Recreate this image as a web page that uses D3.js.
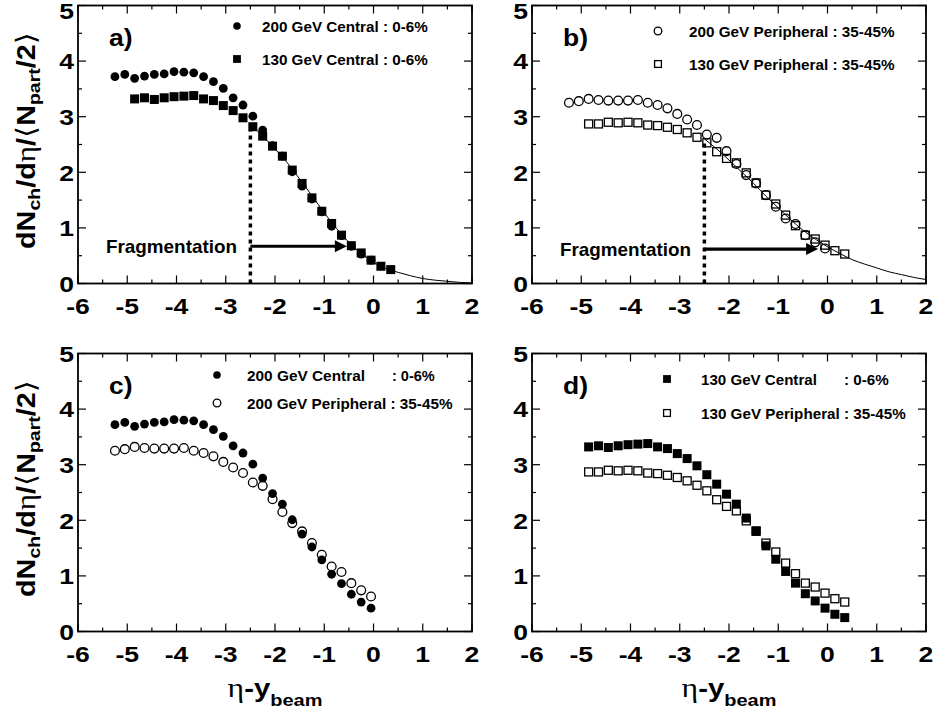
<!DOCTYPE html>
<html>
<head>
<meta charset="utf-8">
<script src="https://cdn.jsdelivr.net/npm/d3@7"></script>
<style>
  body { margin: 0; background: #fff; }
  svg { display: block; }
</style>
</head>
<body>
<div id="chart"></div>
<script>
// eta - y_beam positions of the two beam energies
const eta200 = [-5.25, -5.05, -4.85, -4.65, -4.45, -4.25, -4.05, -3.85, -3.65, -3.45, -3.25, -3.05, -2.85, -2.65,
    -2.45, -2.25, -2.05, -1.85, -1.65, -1.45, -1.25, -1.05, -0.85, -0.65, -0.45, -0.25, -0.05];
const eta130 = [-4.85, -4.65, -4.45, -4.25, -4.05, -3.85, -3.65, -3.45, -3.25, -3.05, -2.85, -2.65, -2.45, -2.25,
    -2.05, -1.85, -1.65, -1.45, -1.25, -1.05, -0.85, -0.65, -0.45, -0.25, -0.05, 0.15, 0.35];

// dNch/deta / <Npart/2>
const central200 = [3.72, 3.76, 3.69, 3.73, 3.76, 3.77, 3.81, 3.80, 3.79, 3.72, 3.63, 3.51, 3.34, 3.21,
    3.01, 2.76, 2.48, 2.29, 2.01, 1.75, 1.52, 1.29, 1.03, 0.86, 0.67, 0.53, 0.42];
const periph200 = [3.25, 3.28, 3.32, 3.30, 3.29, 3.29, 3.29, 3.30, 3.25, 3.21, 3.15, 3.05, 2.95, 2.85,
    2.68, 2.62, 2.38, 2.15, 1.95, 1.80, 1.59, 1.38, 1.17, 1.07, 0.87, 0.74, 0.63];
const central130 = [3.32, 3.34, 3.31, 3.34, 3.36, 3.37, 3.38, 3.32, 3.29, 3.20, 3.11, 2.98, 2.82, 2.65,
    2.47, 2.29, 2.04, 1.80, 1.54, 1.30, 1.08, 0.87, 0.68, 0.55, 0.42, 0.31, 0.25];
const periph130 = [2.87, 2.87, 2.90, 2.89, 2.90, 2.89, 2.85, 2.84, 2.81, 2.77, 2.71, 2.63, 2.53, 2.37,
    2.25, 2.17, 1.99, 1.81, 1.59, 1.43, 1.23, 1.04, 0.87, 0.80, 0.69, 0.59, 0.53];

// fragmentation curves (in a) and b))
const fitEta = [-2.5, -2.25, -2, -1.75, -1.5, -1.25, -1, -0.75, -0.5, -0.25, 0, 0.25, 0.5, 0.75, 1, 1.25, 1.5, 1.75, 2];
const fitCentral = [2.86, 2.65, 2.42, 2.17, 1.88, 1.58, 1.27, 0.99, 0.74, 0.54, 0.38, 0.27, 0.20, 0.14, 0.09, 0.06, 0.04, 0.02, 0.01];
const fitPeriph = [2.60, 2.42, 2.22, 2.01, 1.80, 1.57, 1.36, 1.15, 0.96, 0.80, 0.66, 0.54, 0.43, 0.35, 0.28, 0.21, 0.16, 0.11, 0.07];

// fragmentation marker: dotted edge and arrow, for a) and b)
const fragEdge = -2.5;
const fragTop = [2.75, 2.57];
const arrowY = [0.67, 0.62];
const arrowTip = [-0.54, -0.19];

const xTicks = [-6, -5, -4, -3, -2, -1, 0, 1, 2];
const yTicks = [0, 1, 2, 3, 4, 5];

const width = 933;
const height = 711;
const sans = "'Liberation Sans', Arial, Helvetica, sans-serif";

const svg = d3.select("#chart").append("svg")
    .attr("width", width)
    .attr("height", height);

svg.append("rect").attr("width", width).attr("height", height).attr("fill", "#fff");

const series = {
    c200: { x: eta200, y: central200, shape: "circle", filled: true },
    p200: { x: eta200, y: periph200, shape: "circle", filled: false },
    c130: { x: eta130, y: central130, shape: "square", filled: true },
    p130: { x: eta130, y: periph130, shape: "square", filled: false },
};

const panels = [
    { id: "a)", box: [78, 472, 5.5, 283.5], draw: ["c200", "c130"], fit: fitCentral, frag: 0, yTitle: true, xTitle: false,
      legend: [{ s: "c200", text: "200 GeV Central : 0-6%", w: 166 }, { s: "c130", text: "130 GeV Central : 0-6%", w: 166 }],
      legX: 237, legY: 26, textX: 262 },
    { id: "b)", box: [532, 926, 5.5, 283.5], draw: ["p200", "p130"], fit: fitPeriph, frag: 1, yTitle: false, xTitle: false,
      legend: [{ s: "p200", text: "200 GeV Peripheral : 35-45%", w: 206 }, { s: "p130", text: "130 GeV Peripheral : 35-45%", w: 206 }],
      legX: 658, legY: 31, textX: 689 },
    { id: "c)", box: [78, 472, 353.5, 631.5], draw: ["c200", "p200"], fit: null, yTitle: true, xTitle: true,
      legend: [{ s: "c200", text: "200 GeV Central", w: 118, tail: ": 0-6%", tailX: 392, tailW: 43 },
               { s: "p200", text: "200 GeV Peripheral : 35-45%", w: 206 }],
      legX: 217, legY: 375, textX: 247 },
    { id: "d)", box: [532, 926, 353.5, 631.5], draw: ["c130", "p130"], fit: null, yTitle: false, xTitle: true,
      legend: [{ s: "c130", text: "130 GeV Central", w: 116, tail: ": 0-6%", tailX: 844, tailW: 45 },
               { s: "p130", text: "130 GeV Peripheral : 35-45%", w: 205 }],
      legX: 667, legY: 379, textX: 701 },
];

// stretch a text horizontally to a target width (or by a factor)
function stretch(textSel, target, factor) {
    const w = textSel.node().getBBox().width;
    const k = target ? target / w : factor;
    textSel.attr("transform", `scale(${k},1)`);
}

function marker(g, shape, filled, cx, cy, size) {
    if (shape === "circle") {
        g.append("circle")
            .attr("cx", cx).attr("cy", cy).attr("r", size / 2)
            .attr("fill", filled ? "#000" : "none")
            .attr("stroke", "#000").attr("stroke-width", filled ? 0 : 1.3);
    } else {
        const s = filled ? size : size - 1;
        g.append("rect")
            .attr("x", cx - s / 2).attr("y", cy - s / 2)
            .attr("width", s).attr("height", s)
            .attr("fill", filled ? "#000" : "none")
            .attr("stroke", "#000").attr("stroke-width", filled ? 0 : 1.3);
    }
}

panels.forEach((p, pi) => {
    const [x0, x1, y0, y1] = p.box;
    const x = d3.scaleLinear().domain([-6, 2]).range([x0, x1]);
    const y = d3.scaleLinear().domain([0, 5]).range([y1, y0]);
    const g = svg.append("g");

    // minor + major ticks on all four sides, pointing inward
    const xMinor = d3.range(-6, 2.01, 0.5);
    const yMinor = d3.range(0, 5.01, 0.5);
    xMinor.forEach(v => {
        const len = Number.isInteger(v) ? 8 : 4;
        g.append("line").attr("x1", x(v)).attr("x2", x(v)).attr("y1", y1).attr("y2", y1 - len)
            .attr("stroke", "#000").attr("stroke-width", 1.2);
        g.append("line").attr("x1", x(v)).attr("x2", x(v)).attr("y1", y0).attr("y2", y0 + len)
            .attr("stroke", "#000").attr("stroke-width", 1.2);
    });
    yMinor.forEach(v => {
        const len = Number.isInteger(v) ? 8 : 4;
        g.append("line").attr("x1", x0).attr("x2", x0 + len).attr("y1", y(v)).attr("y2", y(v))
            .attr("stroke", "#000").attr("stroke-width", 1.2);
        g.append("line").attr("x1", x1).attr("x2", x1 - len).attr("y1", y(v)).attr("y2", y(v))
            .attr("stroke", "#000").attr("stroke-width", 1.2);
    });

    g.append("rect")
        .attr("x", x0).attr("y", y0).attr("width", x1 - x0).attr("height", y1 - y0)
        .attr("fill", "none").attr("stroke", "#000").attr("stroke-width", 1.8);

    // tick labels
    xTicks.forEach(v => {
        const t = g.append("g").attr("transform", `translate(${x(v)},${y1 + 30})`)
            .append("text").attr("text-anchor", "middle")
            .attr("font-family", sans).attr("font-weight", "bold").attr("font-size", 22.5)
            .text(v);
        stretch(t, null, 1.18);
    });
    yTicks.forEach(v => {
        const t = g.append("g").attr("transform", `translate(${x0 - 4},${Math.max(y(v) + 8.2, 18.5)})`)
            .append("text").attr("text-anchor", "end")
            .attr("font-family", sans).attr("font-weight", "bold").attr("font-size", 22.5)
            .text(v);
        stretch(t, null, 1.18);
    });

    // panel tag
    const tag = g.append("g").attr("transform", `translate(${x0 + 31},${y0 + 40.5})`)
        .append("text").attr("font-family", sans).attr("font-weight", "bold").attr("font-size", 23)
        .text(p.id);
    stretch(tag, null, 1.15);

    // fragmentation curve, dotted edge and arrow
    if (p.fit) {
        const line = d3.line().x((d, i) => x(fitEta[i])).y(d => y(d)).curve(d3.curveMonotoneX);
        g.append("path").attr("d", line(p.fit))
            .attr("fill", "none").attr("stroke", "#000").attr("stroke-width", 1);

        g.append("line")
            .attr("x1", x(fragEdge)).attr("x2", x(fragEdge))
            .attr("y1", y(0)).attr("y2", y(fragTop[p.frag]))
            .attr("stroke", "#000").attr("stroke-width", 3.5).attr("stroke-dasharray", "4,4");

        const ay = y(arrowY[p.frag]);
        const tip = x(arrowTip[p.frag]);
        g.append("line")
            .attr("x1", x(fragEdge)).attr("x2", tip - 10)
            .attr("y1", ay).attr("y2", ay)
            .attr("stroke", "#000").attr("stroke-width", 3.2);
        g.append("path")
            .attr("d", `M${tip},${ay} L${tip - 12},${ay - 6} L${tip - 12},${ay + 6} Z`)
            .attr("fill", "#000");

        const ft = g.append("g").attr("transform", `translate(${x0 + 28},${ay + 6.5})`)
            .append("text").attr("font-family", sans).attr("font-weight", "bold").attr("font-size", 17.5)
            .text("Fragmentation");
        stretch(ft, 131);
    }

    // data markers
    p.draw.forEach(key => {
        const s = series[key];
        s.y.forEach((v, i) => marker(g, s.shape, s.filled, x(s.x[i]), y(v), s.shape === "circle" ? 8.8 : 9));
    });

    // legend
    p.legend.forEach((e, i) => {
        const s = series[e.s];
        const ly = p.legY + i * (pi < 2 ? 33 : (pi === 2 ? 28 : 34));
        marker(g, s.shape, s.filled, p.legX, ly, s.shape === "circle" ? 7.6 : 7.8);
        const t = g.append("g").attr("transform", `translate(${p.textX},${ly + 5.5})`)
            .append("text").attr("font-family", sans).attr("font-weight", "bold").attr("font-size", 15.5)
            .text(e.text);
        stretch(t, e.w);
        if (e.tail) {
            const tt = g.append("g").attr("transform", `translate(${e.tailX},${ly + 5.5})`)
                .append("text").attr("font-family", sans).attr("font-weight", "bold").attr("font-size", 15.5)
                .text(e.tail);
            stretch(tt, e.tailW);
        }
    });

    // axis titles
    if (p.yTitle) {
        const cy = (y0 + y1) / 2 - 4;
        const t = g.append("g").attr("transform", `translate(35,${cy}) rotate(-90)`)
            .append("text").attr("text-anchor", "middle")
            .attr("font-family", sans).attr("font-weight", "bold").attr("font-size", 25);
        t.append("tspan").text("dN");
        t.append("tspan").attr("font-size", 17).attr("dy", 5).text("ch");
        t.append("tspan").attr("dy", -5).text("/d");
        t.append("tspan").attr("font-family", "'Liberation Serif', serif").attr("font-weight", "normal").attr("font-size", 27).text("η");
        t.append("tspan").text("/");
        t.append("tspan").attr("font-family", "'DejaVu Sans', sans-serif").attr("font-weight", "normal").attr("font-size", 27).text("⟨");
        t.append("tspan").text("N");
        t.append("tspan").attr("font-size", 17).attr("dy", 5).text("part");
        t.append("tspan").attr("dy", -5).text("/2");
        t.append("tspan").attr("font-family", "'DejaVu Sans', sans-serif").attr("font-weight", "normal").attr("font-size", 27).text("⟩");
        stretch(t, 217);
    }
    if (p.xTitle) {
        const t = g.append("g").attr("transform", `translate(${(x0 + x1) / 2},697)`)
            .append("text").attr("text-anchor", "middle")
            .attr("font-family", sans).attr("font-weight", "bold").attr("font-size", 25);
        t.append("tspan").attr("font-family", "'Liberation Serif', serif").attr("font-weight", "normal").attr("font-size", 27).text("η");
        t.append("tspan").text("-y");
        t.append("tspan").attr("font-size", 17).attr("dy", 9).text("beam");
        stretch(t, 95);
    }
});
</script>
</body>
</html>
